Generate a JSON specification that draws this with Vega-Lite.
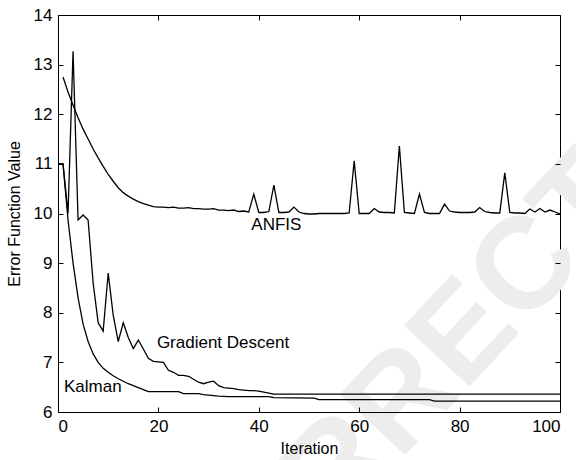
{
  "$schema": "https://vega.github.io/schema/vega-lite/v6.json",
  "width": 502,
  "height": 397,
  "autosize": {"type": "none"},
  "padding": {"left": 58, "top": 15, "right": 16, "bottom": 48},
  "background": "white",
  "config": {
    "view": {"stroke": "black", "strokeWidth": 1},
    "font": "Liberation Sans",
    "axis": {
      "grid": false,
      "domainColor": "black",
      "tickColor": "black",
      "labelColor": "black",
      "titleColor": "black",
      "labelFont": "Liberation Sans",
      "titleFont": "Liberation Sans",
      "labelFontSize": 17,
      "titleFontSize": 16,
      "titleFontWeight": "normal",
      "tickSize": -5,
      "labelPadding": 11
    }
  },
  "datasets": {
    "one": [{}],
    "curves": [
      {"s":"ANFIS","x":1,"y":12.75},{"s":"ANFIS","x":2,"y":12.45},{"s":"ANFIS","x":3,"y":12.18},{"s":"ANFIS","x":4,"y":11.93},{"s":"ANFIS","x":5,"y":11.7},{"s":"ANFIS","x":6,"y":11.5},{"s":"ANFIS","x":7,"y":11.3},{"s":"ANFIS","x":8,"y":11.12},{"s":"ANFIS","x":9,"y":10.95},{"s":"ANFIS","x":10,"y":10.79},
      {"s":"ANFIS","x":11,"y":10.65},{"s":"ANFIS","x":12,"y":10.52},{"s":"ANFIS","x":13,"y":10.42},{"s":"ANFIS","x":14,"y":10.35},{"s":"ANFIS","x":15,"y":10.29},{"s":"ANFIS","x":16,"y":10.24},{"s":"ANFIS","x":17,"y":10.2},{"s":"ANFIS","x":18,"y":10.17},{"s":"ANFIS","x":19,"y":10.14},{"s":"ANFIS","x":20,"y":10.13},
      {"s":"ANFIS","x":21,"y":10.13},{"s":"ANFIS","x":22,"y":10.12},{"s":"ANFIS","x":23,"y":10.13},{"s":"ANFIS","x":24,"y":10.11},{"s":"ANFIS","x":25,"y":10.11},{"s":"ANFIS","x":26,"y":10.12},{"s":"ANFIS","x":27,"y":10.1},{"s":"ANFIS","x":28,"y":10.1},{"s":"ANFIS","x":29,"y":10.09},{"s":"ANFIS","x":30,"y":10.09},
      {"s":"ANFIS","x":31,"y":10.1},{"s":"ANFIS","x":32,"y":10.07},{"s":"ANFIS","x":33,"y":10.07},{"s":"ANFIS","x":34,"y":10.06},{"s":"ANFIS","x":35,"y":10.07},{"s":"ANFIS","x":36,"y":10.04},{"s":"ANFIS","x":37,"y":10.05},{"s":"ANFIS","x":38,"y":10.03},{"s":"ANFIS","x":39,"y":10.39},{"s":"ANFIS","x":40,"y":10.02},
      {"s":"ANFIS","x":41,"y":10.02},{"s":"ANFIS","x":42,"y":10.04},{"s":"ANFIS","x":43,"y":10.57},{"s":"ANFIS","x":44,"y":10.02},{"s":"ANFIS","x":45,"y":10.02},{"s":"ANFIS","x":46,"y":10.03},{"s":"ANFIS","x":47,"y":10.13},{"s":"ANFIS","x":48,"y":10.03},{"s":"ANFIS","x":49,"y":10.0},{"s":"ANFIS","x":50,"y":9.99},
      {"s":"ANFIS","x":51,"y":9.99},{"s":"ANFIS","x":52,"y":10.0},{"s":"ANFIS","x":53,"y":10.0},{"s":"ANFIS","x":54,"y":10.0},{"s":"ANFIS","x":55,"y":10.0},{"s":"ANFIS","x":56,"y":10.0},{"s":"ANFIS","x":57,"y":10.0},{"s":"ANFIS","x":58,"y":10.01},{"s":"ANFIS","x":59,"y":11.06},{"s":"ANFIS","x":60,"y":10.0},
      {"s":"ANFIS","x":61,"y":10.0},{"s":"ANFIS","x":62,"y":10.0},{"s":"ANFIS","x":63,"y":10.1},{"s":"ANFIS","x":64,"y":10.03},{"s":"ANFIS","x":65,"y":10.02},{"s":"ANFIS","x":66,"y":10.02},{"s":"ANFIS","x":67,"y":10.01},{"s":"ANFIS","x":68,"y":11.36},{"s":"ANFIS","x":69,"y":10.02},{"s":"ANFIS","x":70,"y":10.01},
      {"s":"ANFIS","x":71,"y":10.0},{"s":"ANFIS","x":72,"y":10.39},{"s":"ANFIS","x":73,"y":10.02},{"s":"ANFIS","x":74,"y":10.0},{"s":"ANFIS","x":75,"y":10.0},{"s":"ANFIS","x":76,"y":10.0},{"s":"ANFIS","x":77,"y":10.19},{"s":"ANFIS","x":78,"y":10.05},{"s":"ANFIS","x":79,"y":10.03},{"s":"ANFIS","x":80,"y":10.02},
      {"s":"ANFIS","x":81,"y":10.02},{"s":"ANFIS","x":82,"y":10.02},{"s":"ANFIS","x":83,"y":10.03},{"s":"ANFIS","x":84,"y":10.12},{"s":"ANFIS","x":85,"y":10.04},{"s":"ANFIS","x":86,"y":10.02},{"s":"ANFIS","x":87,"y":10.01},{"s":"ANFIS","x":88,"y":10.01},{"s":"ANFIS","x":89,"y":10.82},{"s":"ANFIS","x":90,"y":10.02},
      {"s":"ANFIS","x":91,"y":10.01},{"s":"ANFIS","x":92,"y":10.01},{"s":"ANFIS","x":93,"y":10.0},{"s":"ANFIS","x":94,"y":10.09},{"s":"ANFIS","x":95,"y":10.03},{"s":"ANFIS","x":96,"y":10.1},{"s":"ANFIS","x":97,"y":10.03},{"s":"ANFIS","x":98,"y":10.07},{"s":"ANFIS","x":99,"y":10.03},{"s":"ANFIS","x":100,"y":9.99},

      {"s":"GD","x":0,"y":11.0},{"s":"GD","x":1,"y":11.0},{"s":"GD","x":2,"y":10.0},{"s":"GD","x":3,"y":13.27},{"s":"GD","x":4,"y":9.87},{"s":"GD","x":5,"y":9.97},{"s":"GD","x":6,"y":9.87},{"s":"GD","x":7,"y":8.6},{"s":"GD","x":8,"y":7.8},{"s":"GD","x":9,"y":7.63},{"s":"GD","x":10,"y":8.8},
      {"s":"GD","x":11,"y":7.95},{"s":"GD","x":12,"y":7.42},{"s":"GD","x":13,"y":7.8},{"s":"GD","x":14,"y":7.5},{"s":"GD","x":15,"y":7.28},{"s":"GD","x":16,"y":7.45},{"s":"GD","x":17,"y":7.27},{"s":"GD","x":18,"y":7.08},{"s":"GD","x":19,"y":7.02},{"s":"GD","x":20,"y":7.01},
      {"s":"GD","x":21,"y":7.0},{"s":"GD","x":22,"y":6.84},{"s":"GD","x":23,"y":6.8},{"s":"GD","x":24,"y":6.74},{"s":"GD","x":25,"y":6.74},{"s":"GD","x":26,"y":6.72},{"s":"GD","x":27,"y":6.66},{"s":"GD","x":28,"y":6.6},{"s":"GD","x":29,"y":6.57},{"s":"GD","x":30,"y":6.6},
      {"s":"GD","x":31,"y":6.62},{"s":"GD","x":32,"y":6.53},{"s":"GD","x":33,"y":6.49},{"s":"GD","x":34,"y":6.48},{"s":"GD","x":35,"y":6.47},{"s":"GD","x":36,"y":6.45},{"s":"GD","x":37,"y":6.44},{"s":"GD","x":38,"y":6.43},{"s":"GD","x":39,"y":6.43},{"s":"GD","x":40,"y":6.42},
      {"s":"GD","x":41,"y":6.4},{"s":"GD","x":42,"y":6.38},{"s":"GD","x":43,"y":6.36},{"s":"GD","x":50,"y":6.36},{"s":"GD","x":60,"y":6.36},{"s":"GD","x":70,"y":6.36},{"s":"GD","x":80,"y":6.36},{"s":"GD","x":90,"y":6.36},{"s":"GD","x":100,"y":6.36},

      {"s":"Kalman","x":0,"y":11.0},{"s":"Kalman","x":1,"y":11.0},{"s":"Kalman","x":2,"y":9.87},{"s":"Kalman","x":3,"y":9.0},{"s":"Kalman","x":4,"y":8.3},{"s":"Kalman","x":5,"y":7.77},{"s":"Kalman","x":6,"y":7.42},{"s":"Kalman","x":7,"y":7.17},{"s":"Kalman","x":8,"y":7.0},{"s":"Kalman","x":9,"y":6.88},{"s":"Kalman","x":10,"y":6.8},
      {"s":"Kalman","x":11,"y":6.73},{"s":"Kalman","x":12,"y":6.67},{"s":"Kalman","x":13,"y":6.62},{"s":"Kalman","x":14,"y":6.57},{"s":"Kalman","x":15,"y":6.53},{"s":"Kalman","x":16,"y":6.49},{"s":"Kalman","x":17,"y":6.45},{"s":"Kalman","x":18,"y":6.41},{"s":"Kalman","x":24,"y":6.41},{"s":"Kalman","x":25,"y":6.37},
      {"s":"Kalman","x":28,"y":6.37},{"s":"Kalman","x":29,"y":6.35},{"s":"Kalman","x":30,"y":6.34},{"s":"Kalman","x":31,"y":6.33},{"s":"Kalman","x":32,"y":6.32},{"s":"Kalman","x":34,"y":6.31},{"s":"Kalman","x":42,"y":6.31},{"s":"Kalman","x":43,"y":6.29},{"s":"Kalman","x":51,"y":6.28},{"s":"Kalman","x":52,"y":6.25},
      {"s":"Kalman","x":74,"y":6.25},{"s":"Kalman","x":75,"y":6.22},{"s":"Kalman","x":100,"y":6.22}
    ]
  },
  "layer": [
    {
      "data": {"name": "one"},
      "mark": {"type": "text", "text": "CORRECTED", "angle": -47, "fontSize": 130, "fontWeight": "bold", "font": "Liberation Sans", "color": "#ededed", "align": "center", "baseline": "middle"},
      "encoding": {
        "x": {"datum": 79, "type": "quantitative", "scale": {"domain": [0, 100], "nice": false}, "axis": null},
        "y": {"datum": 7.35, "type": "quantitative", "scale": {"domain": [6, 14], "nice": false}, "axis": null}
      }
    },
    {
      "data": {"name": "curves"},
      "mark": {"type": "line", "color": "black", "strokeWidth": 1.3, "clip": true},
      "encoding": {
        "x": {"field": "x", "type": "quantitative", "scale": {"domain": [0, 100], "nice": false},
              "axis": {"values": [0, 20, 40, 60, 80, 100], "title": "Iteration", "titlePadding": 6, "zindex": 2}},
        "y": {"field": "y", "type": "quantitative", "scale": {"domain": [6, 14], "nice": false},
              "axis": {"values": [6, 7, 8, 9, 10, 11, 12, 13, 14], "title": "Error Function Value", "titlePadding": 11, "zindex": 2}},
        "detail": {"field": "s"}
      }
    },
    {
      "data": {"name": "one"},
      "mark": {"type": "text", "text": "ANFIS", "fontSize": 17, "font": "Liberation Sans", "color": "black", "align": "center", "baseline": "middle"},
      "encoding": {
        "x": {"datum": 43.5, "type": "quantitative", "axis": {"orient": "top", "values": [0, 20, 40, 60, 80, 100], "labels": false, "title": null, "domain": false, "zindex": 2}},
        "y": {"datum": 9.76, "type": "quantitative", "axis": {"orient": "right", "values": [6, 7, 8, 9, 10, 11, 12, 13, 14], "labels": false, "title": null, "domain": false, "zindex": 2}}
      }
    },
    {
      "data": {"name": "one"},
      "mark": {"type": "text", "text": "Gradient Descent", "fontSize": 17, "font": "Liberation Sans", "color": "black", "align": "left", "baseline": "middle"},
      "encoding": {
        "x": {"datum": 19.7, "type": "quantitative", "axis": null},
        "y": {"datum": 7.39, "type": "quantitative", "axis": null}
      }
    },
    {
      "data": {"name": "one"},
      "mark": {"type": "text", "text": "Kalman", "fontSize": 17, "font": "Liberation Sans", "color": "black", "align": "left", "baseline": "middle"},
      "encoding": {
        "x": {"datum": 1.2, "type": "quantitative", "axis": null},
        "y": {"datum": 6.5, "type": "quantitative", "axis": null}
      }
    }
  ],
  "resolve": {"axis": {"x": "independent", "y": "independent"}}
}
